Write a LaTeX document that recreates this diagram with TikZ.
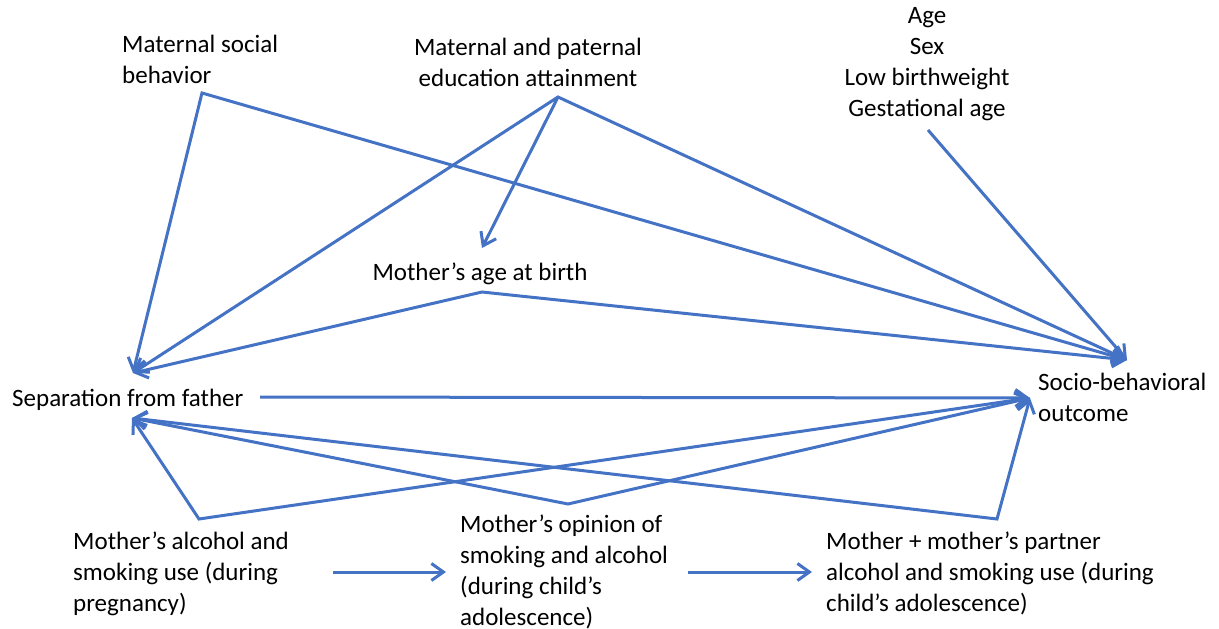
\documentclass[tikz,border=0pt]{standalone}
\usepackage{fontspec}
\setmainfont{Carlito}
\usetikzlibrary{arrows.meta}
\definecolor{lineblue}{HTML}{4472C4}
\begin{document}
\begin{tikzpicture}[x=1pt,y=-1pt,
  lbl/.style={inner sep=0pt, font=\fontsize{25}{31}\selectfont, text=black},
  conn/.style={draw=lineblue, line width=3pt, line join=miter, {Straight Barb[length=12pt,width=17pt]}-{Straight Barb[length=12pt,width=17pt]}},
  arr/.style={draw=lineblue, line width=3pt, -{Straight Barb[length=12pt,width=17pt]}}]
\useasboundingbox (0,0) rectangle (1219,629);
% text nodes
\node[lbl, anchor=base west, align=left] (msb) at (122,83) {Maternal social\\behavior};
\node[lbl, anchor=base, align=center] (edu) at (528,86) {Maternal and paternal\\education attainment};
\node[lbl, anchor=base, align=center] (cov) at (927,116) {Age\\Sex\\Low birthweight\\Gestational age};
\node[lbl, anchor=base] (mab) at (480,280) {Mother’s age at birth};
\node[lbl, anchor=base west] (sep) at (12,406) {Separation from father};
\node[lbl, anchor=base west, align=left] (out) at (1038,421) {Socio-behavioral\\outcome};
\node[lbl, anchor=base west, align=left] (mas) at (73,611) {Mother’s alcohol and\\smoking use (during\\pregnancy)};
\node[lbl, anchor=base west, align=left] (mop) at (460,625) {Mother’s opinion of\\smoking and alcohol\\(during child’s\\adolescence)};
\node[lbl, anchor=base west, align=left] (mpa) at (826,611) {Mother + mother’s partner\\alcohol and smoking use (during\\child’s adolescence)};
% connector points
\coordinate (msbA) at (202,93);
\coordinate (eduA) at (558,97);
\coordinate (covA) at (928,130);
\coordinate (mabA) at (482,292);
\coordinate (mabT) at (482,248);
\coordinate (sepT) at (133,373);
\coordinate (sepB) at (132,418);
\coordinate (sepR) at (260,397);
\coordinate (outT) at (1127,360);
\coordinate (outL) at (1030,398);
\coordinate (masA) at (199,519);
\coordinate (mopA) at (568,504);
\coordinate (mpaA) at (997,519);
\coordinate (masR) at (333,572);
\coordinate (mopL) at (446,572);
\coordinate (mopR) at (688,572);
\coordinate (mpaL) at (812,572);
% connectors
\draw[conn] (sepT) -- (msbA) -- (outT);
\draw[conn] (sepT) -- (eduA) -- (outT);
\draw[arr] (eduA) -- (mabT);
\draw[arr] (covA) -- (outT);
\draw[conn] (sepT) -- (mabA) -- (outT);
\draw[arr] (sepR) -- (outL);
\draw[conn] (sepB) -- (masA) -- (outL);
\draw[conn] (sepB) -- (mopA) -- (outL);
\draw[conn] (sepB) -- (mpaA) -- (outL);
\draw[arr] (masR) -- (mopL);
\draw[arr] (mopR) -- (mpaL);
\end{tikzpicture}
\end{document}
